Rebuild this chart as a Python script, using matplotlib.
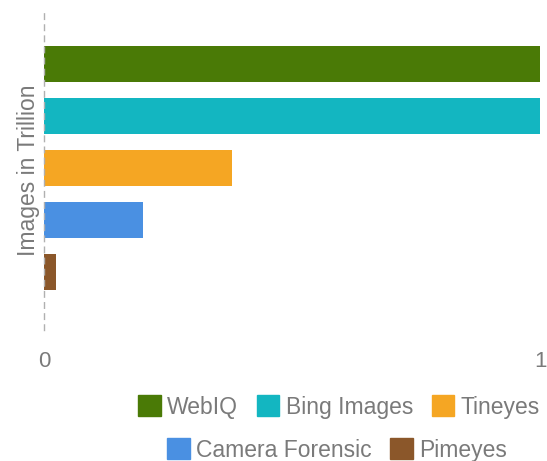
import matplotlib
matplotlib.use("Agg")
import matplotlib.pyplot as plt
from matplotlib.patches import Patch

plt.rcParams['font.family'] = ['Liberation Sans', 'DejaVu Sans']

series = ["WebIQ", "Bing Images", "Tineyes", "Camera Forensic", "Pimeyes"]
values = [1.0, 1.0, 0.38, 0.2, 0.024]
colors = ["#4a7a06", "#13b6c1", "#f5a623", "#4a90e2", "#8b572a"]
x_ticks = [0, 1]
x_ticklabels = ["0", "1"]

fig = plt.figure(figsize=(5.47, 4.61), dpi=100)
ax = fig.add_axes([44/547, 1 - 330/461, 496/547, 320/461])

n = len(series)
for i, (s, v, c) in enumerate(zip(series, values, colors)):
    ax.barh(i, v, height=0.69, color=c, label=s)

ax.set_ylim(n - 1 + 1.12, -1.04)
ax.set_xlim(0, 1)
ax.set_yticks([])
ax.set_xticks(x_ticks)
ax.set_xticklabels(x_ticklabels, color="#7a7a7a", fontsize=16)
ax.tick_params(axis='x', length=0, pad=15)
for sp in ["top", "right", "bottom"]:
    ax.spines[sp].set_visible(False)
ax.spines["left"].set_linestyle((0, (4, 4)))
ax.spines["left"].set_color("#b0b0b0")
ax.spines["left"].set_linewidth(1)
ax.set_ylabel("Images in Trillion", color="#7a7a7a", fontsize=16.5, labelpad=3)

handles = [Patch(facecolor=c, edgecolor=c, label=s) for s, c in zip(series, colors)]
kw = dict(frameon=False, fontsize=16.5, handlelength=1.0, handleheight=1.0,
          handletextpad=0.28, columnspacing=0.8, labelcolor="#7a7a7a", borderpad=0)
fig.legend(handles=handles[:3], loc="center", bbox_to_anchor=(339/547, 1 - 407/461), ncol=3, **kw)
fig.legend(handles=handles[3:], loc="center", bbox_to_anchor=(337/547, 1 - 450/461), ncol=2, **kw)

fig.savefig("out.png", dpi=100)
